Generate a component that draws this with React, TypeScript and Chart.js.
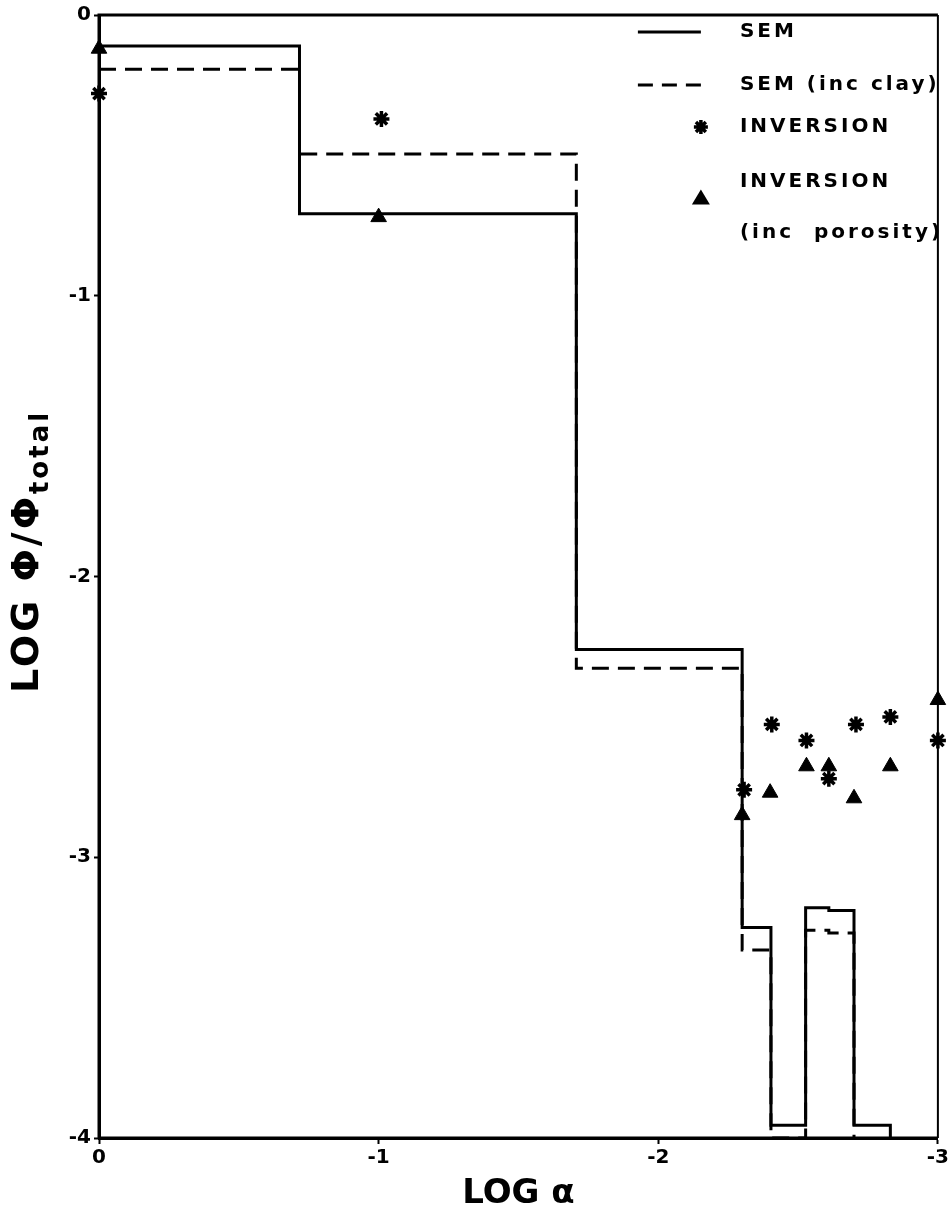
import React, { useEffect, useRef } from 'react';
import { Chart, registerables } from 'chart.js';

Chart.register(...registerables);

// ---- data ----
const xTicks = [0, -1, -2, -3];
const yTicks = [0, -1, -2, -3, -4];

// SEM (solid step histogram): left edge of each bin and its level (last point closes the step)
const semEdges = [0, -0.717, -1.707, -2.3, -2.403, -2.527, -2.61, -2.7, -2.83];
const semValues = [-0.11, -0.708, -2.26, -3.25, -3.955, -3.18, -3.19, -3.955, -4];

// SEM (inc clay) (dashed step histogram)
const clayEdges = [0, -0.717, -1.707, -2.3, -2.403, -2.527, -2.61, -2.7];
const clayValues = [-0.193, -0.495, -2.327, -3.33, -4, -3.26, -3.27, -4];

// INVERSION (stars)
const invX = [0, -1.01, -2.307, -2.406, -2.53, -2.61, -2.707, -2.83, -3.0];
const invY = [-0.28, -0.37, -2.76, -2.527, -2.584, -2.72, -2.527, -2.5, -2.584];

// INVERSION (inc porosity) (triangles)
const porX = [0, -1.0, -2.3, -2.4, -2.53, -2.61, -2.7, -2.83, -3.0];
const porY = [-0.12, -0.72, -2.85, -2.77, -2.676, -2.676, -2.79, -2.676, -2.44];

const legendLabels = ['SEM', 'SEM (inc clay)', 'INVERSION', 'INVERSION', '(inc  porosity)'];

const FONT = '"DejaVu Sans", "Liberation Sans", sans-serif';

const framePlugin = {
  id: 'frame',
  afterDatasetsDraw(chart: any) {
    const { ctx, chartArea } = chart;
    const { left, right, top, bottom } = chartArea;
    ctx.save();
    ctx.strokeStyle = '#000';
    ctx.lineWidth = 3;
    ctx.beginPath();
    ctx.moveTo(left, bottom);
    ctx.lineTo(left, top);
    ctx.lineTo(right, top);
    ctx.stroke();
    ctx.lineWidth = 2;
    ctx.beginPath();
    ctx.moveTo(right, top);
    ctx.lineTo(right, bottom);
    ctx.stroke();
    ctx.lineWidth = 3;
    ctx.beginPath();
    ctx.moveTo(left, bottom);
    ctx.lineTo(right, bottom);
    ctx.stroke();
    ctx.restore();
  },
};

function drawStar(ctx: CanvasRenderingContext2D, x: number, y: number, r: number) {
  ctx.beginPath();
  for (let k = 0; k < 4; k++) {
    const a = (k * Math.PI) / 4;
    ctx.moveTo(x + Math.cos(a) * r, y + Math.sin(a) * r);
    ctx.lineTo(x - Math.cos(a) * r, y - Math.sin(a) * r);
  }
  ctx.stroke();
}

const legendPlugin = {
  id: 'customLegend',
  afterDraw(chart: any) {
    const { ctx, chartArea } = chart;
    const x0 = chartArea.right - 300;
    const x1 = chartArea.right - 237;
    const tx = chartArea.right - 198;
    const rows = [32, 85, 127, 182, 233];
    ctx.save();
    ctx.strokeStyle = '#000';
    ctx.fillStyle = '#000';
    // solid
    ctx.lineWidth = 3;
    ctx.beginPath();
    ctx.moveTo(x0, rows[0]);
    ctx.lineTo(x1, rows[0]);
    ctx.stroke();
    // dashed
    ctx.setLineDash([15, 9]);
    ctx.beginPath();
    ctx.moveTo(x0, rows[1]);
    ctx.lineTo(x1 + 2, rows[1]);
    ctx.stroke();
    ctx.setLineDash([]);
    // star
    ctx.lineWidth = 3.5;
    drawStar(ctx, x1, rows[2], 7);
    // triangle
    const ty = (rows[3] + rows[4]) / 2 - 10;
    ctx.beginPath();
    ctx.moveTo(x1, ty - 8);
    ctx.lineTo(x1 + 9, ty + 7);
    ctx.lineTo(x1 - 9, ty + 7);
    ctx.closePath();
    ctx.fill();
    // texts
    ctx.font = `bold 20px ${FONT}`;
    (ctx as any).letterSpacing = '3px';
    ctx.textBaseline = 'middle';
    ctx.textAlign = 'left';
    legendLabels.forEach((t, i) => ctx.fillText(t, tx, rows[i]));
    ctx.restore();
  },
};

const yTitlePlugin = {
  id: 'yTitle',
  afterDraw(chart: any) {
    const { ctx, chartArea } = chart;
    const cy = (chartArea.top + chartArea.bottom) / 2 - 25;
    const cx = 28;
    ctx.save();
    ctx.translate(cx, cy);
    ctx.rotate(-Math.PI / 2);
    ctx.fillStyle = '#000';
    ctx.textBaseline = 'middle';
    (ctx as any).letterSpacing = '3px';
    const main = 'LOG \u03A6/\u03A6';
    const sub = 'total';
    ctx.font = `bold 38px ${FONT}`;
    const w1 = ctx.measureText(main).width;
    ctx.font = `bold 26px ${FONT}`;
    const w2 = ctx.measureText(sub).width;
    const start = -(w1 + w2) / 2;
    ctx.font = `bold 38px ${FONT}`;
    ctx.textAlign = 'left';
    ctx.fillText(main, start, 0);
    ctx.font = `bold 26px ${FONT}`;
    ctx.fillText(sub, start + w1, 13);
    ctx.restore();
  },
};

export default function App() {
  const ref = useRef<HTMLCanvasElement>(null);
  useEffect(() => {
    const canvas = ref.current!;
    const chart = new Chart(canvas, {
      type: 'scatter',
      data: {
        datasets: [
          {
            label: 'SEM',
            data: semEdges.map((x, i) => ({ x, y: semValues[i] })),
            showLine: true,
            stepped: 'before',
            borderColor: '#000',
            backgroundColor: '#000',
            borderWidth: 3,
            pointRadius: 0,
            fill: false,
          } as any,
          {
            label: 'SEM (inc clay)',
            data: clayEdges.map((x, i) => ({ x, y: clayValues[i] })),
            showLine: true,
            stepped: 'before',
            borderColor: '#000',
            backgroundColor: '#000',
            borderWidth: 3,
            borderDash: [17, 9],
            pointRadius: 0,
            fill: false,
          } as any,
          {
            label: 'INVERSION',
            data: invX.map((x, i) => ({ x, y: invY[i] })),
            showLine: false,
            pointStyle: 'star',
            pointRadius: 8,
            pointBorderWidth: 3.5,
            borderColor: '#000',
            backgroundColor: '#000',
            clip: false,
          } as any,
          {
            label: 'INVERSION (inc porosity)',
            data: porX.map((x, i) => ({ x, y: porY[i] })),
            showLine: false,
            pointStyle: 'triangle',
            pointRadius: 9,
            pointBorderWidth: 1,
            borderColor: '#000',
            backgroundColor: '#000',
            clip: false,
          } as any,
        ],
      },
      options: {
        responsive: false,
        animation: false,
        devicePixelRatio: 1,
        layout: { padding: { left: 0, right: 4, top: 14, bottom: 0 } },
        plugins: {
          legend: { display: false },
          tooltip: { enabled: false },
        },
        scales: {
          x: {
            type: 'linear',
            reverse: true,
            min: -3,
            max: 0,
            afterBuildTicks: (s: any) => {
              s.ticks = xTicks.map((v) => ({ value: v }));
            },
            afterFit: (s: any) => {
              s.height = 79;
            },
            grid: {
              display: true,
              drawOnChartArea: false,
              drawTicks: true,
              tickLength: 6,
              tickWidth: 2,
              tickColor: '#000',
            },
            border: { display: true, color: '#000', width: 3 },
            ticks: {
              color: '#000',
              padding: 2,
              maxRotation: 0,
              font: { family: FONT, size: 20, weight: 'bold' },
              callback: (v: any) => String(v),
            },
            title: {
              display: true,
              text: 'LOG \u03B1',
              color: '#000',
              font: { family: FONT, size: 34, weight: 'bold' },
              padding: { top: 0, bottom: 2 },
            },
          },
          y: {
            type: 'linear',
            min: -4,
            max: 0,
            afterBuildTicks: (s: any) => {
              s.ticks = yTicks.map((v) => ({ value: v }));
            },
            afterFit: (s: any) => {
              s.width = 99;
            },
            grid: {
              display: true,
              drawOnChartArea: false,
              drawTicks: true,
              tickLength: 5,
              tickWidth: 2,
              tickColor: '#000',
            },
            border: { display: true, color: '#000', width: 3 },
            ticks: {
              color: '#000',
              padding: 3,
              font: { family: FONT, size: 20, weight: 'bold' },
              callback: (v: any) => String(v),
            },
          },
        },
      },
      plugins: [framePlugin, legendPlugin, yTitlePlugin],
    });
    return () => chart.destroy();
  }, []);

  return (
    <div style={{ position: 'absolute', left: 0, top: 0, width: 951, height: 1217, background: '#fff' }}>
      <canvas ref={ref} width={951} height={1217} style={{ display: 'block', width: 951, height: 1217 }} />
    </div>
  );
}
